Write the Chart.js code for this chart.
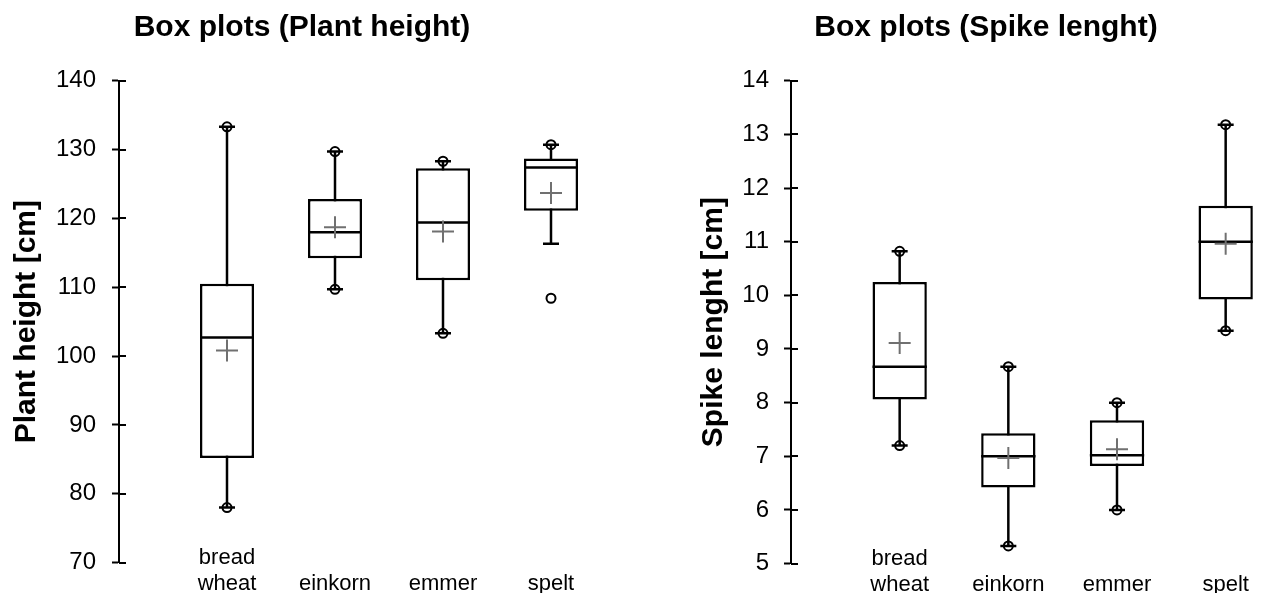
<!DOCTYPE html>
<html>
<head>
<meta charset="utf-8">
<script src="https://cdn.jsdelivr.net/npm/chart.js@4.4.1/dist/chart.umd.min.js"></script>
<style>
  html, body { margin: 0; padding: 0; background: #fff; overflow: hidden; }
  #page { position: relative; width: 1266px; height: 593px; overflow: hidden; }
  canvas { position: absolute; top: 0; }
  #heightChart { left: -1px; }
  #spikeChart { left: 692px; }
</style>
</head>
<body>
<div id="page">
  <canvas id="heightChart" width="606" height="593"></canvas>
  <canvas id="spikeChart" width="588" height="593"></canvas>
</div>
<script>
// categories (tick labels of the x axis)
const categories = [['bread', 'wheat'], 'einkorn', 'emmer', 'spelt'];

// Plant height [cm]
const heightQ1 = [85.2, 114.2, 111.0, 121.1];
const heightMedian = [102.7, 118.0, 119.4, 127.4];
const heightQ3 = [110.5, 122.8, 127.3, 128.7];
const heightWhiskerLow = [78.0, 109.7, 103.3, 116.3];
const heightWhiskerHigh = [133.3, 129.7, 128.3, 130.7];
const heightMean = [100.8, 118.7, 118.1, 123.7];
const heightMin = [78.0, 109.7, 103.3, 108.4];
const heightMax = [133.3, 129.7, 128.3, 130.7];
const heightTicks = [70, 80, 90, 100, 110, 120, 130, 140];

// Spike lenght [cm]
const spikeQ1 = [8.06, 6.42, 6.82, 9.92];
const spikeMedian = [8.67, 7.0, 7.02, 11.0];
const spikeQ3 = [10.25, 7.43, 7.67, 11.67];
const spikeWhiskerLow = [7.2, 5.33, 6.0, 9.34];
const spikeWhiskerHigh = [10.82, 8.67, 8.0, 13.18];
const spikeMean = [9.11, 6.97, 7.13, 10.96];
const spikeMin = [7.2, 5.33, 6.0, 9.34];
const spikeMax = [10.82, 8.67, 8.0, 13.18];
const spikeTicks = [5, 6, 7, 8, 9, 10, 11, 12, 13, 14];

Chart.defaults.font.family = "'Liberation Sans', Arial, sans-serif";
Chart.defaults.color = '#000';

const BOX_HALF = 0.25;      // half box width in category units
const TICK_LEN = 7;
const LINE_W = 2.5;

// tick marks also cross to the inside of the y axis
const innerTicks = {
    id: 'innerTicks',
    afterDraw(chart) {
        const { ctx, chartArea } = chart;
        const yScale = chart.scales.y;
        ctx.save();
        ctx.strokeStyle = '#000';
        ctx.lineWidth = 2;
        yScale.ticks.forEach(t => {
            const y = Math.round(yScale.getPixelForValue(t.value));
            ctx.beginPath();
            ctx.moveTo(chartArea.left, y);
            ctx.lineTo(chartArea.left + TICK_LEN, y);
            ctx.stroke();
        });
        ctx.restore();
    }
};

function createBoxChart(canvasId, opts) {
    const ctx = document.getElementById(canvasId);
    const xs = categories.map((c, i) => i + 1);

    // whiskers: one segment per category, gaps in between
    const whiskers = [];
    const medians = [];
    xs.forEach((x, i) => {
        whiskers.push({ x, y: opts.whiskerLow[i] }, { x, y: opts.whiskerHigh[i] }, { x, y: null });
        medians.push({ x: x - BOX_HALF, y: opts.median[i] }, { x: x + BOX_HALF, y: opts.median[i] }, { x, y: null });
    });
    const boxes = xs.map((x, i) => ({ x, y: [opts.q1[i], opts.q3[i]] }));
    const caps = xs.flatMap((x, i) => [{ x, y: opts.whiskerLow[i] }, { x, y: opts.whiskerHigh[i] }]);
    const extremes = xs.flatMap((x, i) => [{ x, y: opts.min[i] }, { x, y: opts.max[i] }]);
    const means = xs.map((x, i) => ({ x, y: opts.mean[i] }));

    new Chart(ctx, {
        type: 'scatter',
        data: {
            datasets: [
                {
                    type: 'line', data: whiskers, order: 5,
                    borderColor: '#000', borderWidth: LINE_W, pointRadius: 0, fill: false
                },
                {
                    type: 'bar', data: boxes, order: 4,
                    backgroundColor: '#fff', borderColor: '#000', borderWidth: LINE_W,
                    borderSkipped: false, barPercentage: 0.5, categoryPercentage: 1
                },
                {
                    type: 'line', data: medians, order: 3,
                    borderColor: '#000', borderWidth: LINE_W, pointRadius: 0, fill: false
                },
                {
                    type: 'scatter', data: caps, order: 2,
                    pointStyle: 'line', pointRadius: 8, pointHoverRadius: 8,
                    pointBorderColor: '#000', pointBorderWidth: LINE_W
                },
                {
                    type: 'scatter', data: extremes, order: 1,
                    pointStyle: 'circle', pointRadius: 4.5, pointHoverRadius: 4.5,
                    pointBorderColor: '#000', pointBackgroundColor: 'rgba(0,0,0,0)', pointBorderWidth: 2
                },
                {
                    type: 'scatter', data: means, order: 0,
                    pointStyle: 'cross', pointRadius: 11, pointHoverRadius: 11,
                    pointBorderColor: '#707070', pointBorderWidth: 2
                }
            ]
        },
        options: {
            responsive: false,
            animation: false,
            events: [],
            layout: { padding: 0, autoPadding: false },
            plugins: {
                legend: { display: false },
                tooltip: { enabled: false },
                title: {
                    display: true,
                    text: opts.title,
                    color: '#000',
                    font: { size: 30, weight: 'bold', lineHeight: 1.2 },
                    padding: { top: 10, bottom: 34.7 }
                }
            },
            scales: {
                x: {
                    type: 'linear',
                    min: 0,
                    max: 4.5,
                    offset: false,
                    grid: { display: false, drawTicks: false, offset: false },
                    border: { display: false },
                    afterBuildTicks: (scale) => {
                        scale.ticks = xs.map(v => ({ value: v }));
                    },
                    afterFit: (scale) => { scale.height = 25.7; },
                    ticks: {
                        autoSkip: false,
                        maxRotation: 0,
                        mirror: true,       // keeps labels from being clipped to the axis box
                        crossAlign: 'far',
                        padding: 5,
                        font: { size: 22, lineHeight: 26 / 22 },
                        // every label gets two lines so the last lines share a baseline
                        callback: (value) => {
                            const label = categories[value - 1];
                            return Array.isArray(label) ? label : ['', label];
                        }
                    }
                },
                y: {
                    min: opts.yTicks[0],
                    max: opts.yTicks[opts.yTicks.length - 1],
                    afterBuildTicks: (scale) => {
                        scale.ticks = opts.yTicks.map(v => ({ value: v }));
                    },
                    afterFit: (scale) => { scale.width = opts.axisWidth; },
                    grid: {
                        drawOnChartArea: false,
                        tickLength: TICK_LEN,
                        tickWidth: 2,
                        tickColor: '#000'
                    },
                    border: { display: true, color: '#000', width: 2 },
                    ticks: {
                        padding: opts.tickPadding,
                        font: { size: 24 }
                    },
                    title: {
                        display: true,
                        text: opts.axisTitle,
                        color: '#000',
                        font: { size: 30, weight: 'bold', lineHeight: 1.2 },
                        padding: { top: opts.axisTitlePad, bottom: 0 }
                    }
                }
            }
        },
        plugins: [innerTicks]
    });
}

document.addEventListener('DOMContentLoaded', () => {
    // "Plant height" box plots
    createBoxChart('heightChart', {
        title: 'Box plots (Plant height)',
        axisTitle: 'Plant height [cm]',
        q1: heightQ1, median: heightMedian, q3: heightQ3,
        whiskerLow: heightWhiskerLow, whiskerHigh: heightWhiskerHigh,
        mean: heightMean, min: heightMin, max: heightMax,
        yTicks: heightTicks,
        axisWidth: 120, tickPadding: 16, axisTitlePad: 10
    });

    // "Spike lenght" box plots
    createBoxChart('spikeChart', {
        title: 'Box plots (Spike lenght)',
        axisTitle: 'Spike lenght [cm]',
        q1: spikeQ1, median: spikeMedian, q3: spikeQ3,
        whiskerLow: spikeWhiskerLow, whiskerHigh: spikeWhiskerHigh,
        mean: spikeMean, min: spikeMin, max: spikeMax,
        yTicks: spikeTicks,
        axisWidth: 99, tickPadding: 15, axisTitlePad: 4.2
    });
});
</script>
</body>
</html>
